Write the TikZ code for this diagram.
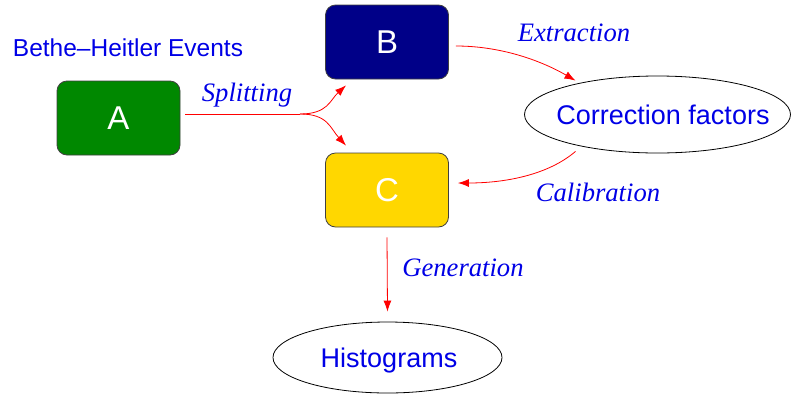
\documentclass[tikz,border=0pt]{standalone}
\usepackage{fontspec}
\setmainfont{Liberation Serif}
\setsansfont{Liberation Sans}
\usetikzlibrary{arrows.meta,shapes.geometric}
\definecolor{boxgreen}{RGB}{0,136,0}
\definecolor{boxnavy}{RGB}{0,0,136}
\definecolor{boxgold}{RGB}{255,215,0}
\definecolor{txtblue}{RGB}{0,0,230}
\definecolor{flowred}{RGB}{255,0,0}
\tikzset{
  stepbox/.style={draw=black!75, line width=0.8pt, rounded corners=10pt,
    minimum width=123pt, minimum height=74pt, inner sep=0pt,
    text=white, font=\sffamily\fontsize{33}{36}\selectfont},
  result/.style={ellipse, draw=black, line width=0.8pt, inner sep=0pt},
  resulttext/.style={text=txtblue, inner sep=0pt,
    font=\sffamily\fontsize{27}{31}\selectfont},
  steplabel/.style={text=txtblue, inner sep=0pt,
    font=\rmfamily\itshape\fontsize{26.6}{31}\selectfont},
  flow/.style={draw=flowred, line width=0.8pt,
    -{Latex[length=11pt,width=8pt]}}
}
\begin{document}
\begin{tikzpicture}[x=1pt,y=-1pt]
  \useasboundingbox (0,0) rectangle (794,394);

  % processing stages
  \node[stepbox, fill=boxgreen] (a) at (118.5,118) {A};
  \node[stepbox, fill=boxnavy]  (b) at (387,42)    {B};
  \node[stepbox, fill=boxgold]  (c) at (387,190)   {C};

  % outputs
  \node[result, minimum width=266pt, minimum height=77pt] (cf) at (657.5,114.5) {};
  \node[resulttext] (cftext) at (663,115) {Correction factors};
  \node[result, minimum width=229pt, minimum height=71pt] (hist) at (387.5,357.5) {};
  \node[resulttext] (histtext) at (389,361) {Histograms};

  % labels
  \node[text=txtblue, inner sep=0pt, font=\sffamily\fontsize{24.5}{28}\selectfont]
    (title) at (128,48) {Bethe--Heitler Events};
  \node[steplabel] (lsplit) at (247,95)  {Splitting};
  \node[steplabel] (lextr)  at (574,33)  {Extraction};
  \node[steplabel] (lcalib) at (598,192) {Calibration};
  \node[steplabel] (lgen)   at (463,268) {Generation};

  % connectors
  \coordinate (fork) at (300,114);
  \draw[draw=flowred, line width=0.8pt] ([xshift=5pt,yshift=4pt]a.east) -- (fork);
  \draw[flow] (fork) .. controls (328,114) and (330,100) .. ([xshift=-41pt,yshift=-6pt]b.south);
  \draw[flow] (fork) .. controls (328,114) and (330,128) .. ([xshift=-41pt,yshift=7pt]c.north);
  \draw[flow] ([xshift=7pt,yshift=-4pt]b.east) .. controls (500,46) and (540,60) .. ([xshift=-82pt,yshift=-5pt]cf.north);
  \draw[flow] ([xshift=-82pt,yshift=2pt]cf.south) .. controls (548,175) and (505,183) .. ([xshift=9pt,yshift=7pt]c.east);
  \draw[flow] ([yshift=-10pt]c.south) -- ([yshift=10pt]hist.north);
\end{tikzpicture}
\end{document}
